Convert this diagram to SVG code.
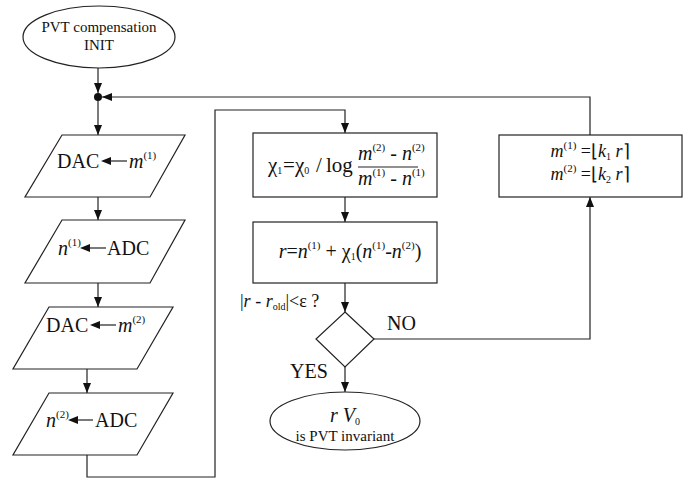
<svg xmlns="http://www.w3.org/2000/svg" width="696" height="480" viewBox="0 0 696 480" font-family="'Liberation Serif', serif">
<defs>
<style>
.ln{fill:none;stroke:#222;stroke-width:1.2}
.sh{fill:#fff;stroke:#222;stroke-width:1.2}
.ah{fill:#111;stroke:none}
.tx{fill:#111}
.t20{font-size:20px}
.t18{font-size:18px}
.t15{font-size:15px}
.i{font-style:italic}
.sup{font-size:11px}
.sub{font-size:10px}
</style>
<marker id="arr" markerUnits="userSpaceOnUse" markerWidth="10" markerHeight="8" refX="10" refY="4" orient="auto">
<path d="M0,0 L10,4 L0,8 z" fill="#111"/>
</marker>
</defs>
<rect width="696" height="480" fill="#fff"/>

<g id="connectors">
<path class="ln" d="M98,68 V93" marker-end="url(#arr)"/>
<circle cx="98" cy="97" r="4" fill="#111"/>
<path class="ln" d="M590,135 V97 H102" marker-end="url(#arr)"/>
<path class="ln" d="M98,101 V135" marker-end="url(#arr)"/>
<path class="ln" d="M98,197 V220" marker-end="url(#arr)"/>
<path class="ln" d="M98,283 V307" marker-end="url(#arr)"/>
<path class="ln" d="M87,369 V393" marker-end="url(#arr)"/>
<path class="ln" d="M87,455 V477 H215 V110 H345 V133" marker-end="url(#arr)"/>
<path class="ln" d="M345,197 V222" marker-end="url(#arr)"/>
<path class="ln" d="M345,283 V312" marker-end="url(#arr)"/>
<path class="ln" d="M345,367 V392" marker-end="url(#arr)"/>
<path class="ln" d="M374,339 H590 V197" marker-end="url(#arr)"/>
<text x="240" y="307" class="tx t18">|<tspan class="i">r</tspan>  - <tspan class="i">r</tspan><tspan class="sub" dy="3">old</tspan><tspan dy="-3">|&lt;ε ?</tspan></text>
<text x="387" y="330" class="tx t20">NO</text>
<text x="290" y="378" class="tx t20">YES</text>
</g>

<g id="init">
<ellipse class="sh" cx="99" cy="37" rx="76" ry="31"/>
<text x="99" y="32" class="tx t15" text-anchor="middle">PVT compensation</text>
<text x="99" y="50" class="tx t15" text-anchor="middle">INIT</text>
</g>

<g id="dac1">
<polygon class="sh" points="62,135 185,135 150,197 25,197"/>
<text x="57" y="168" class="tx t20">DAC</text>
<polygon class="ah" points="101,161 111,157 111,165"/>
<line class="ln" x1="110" y1="161" x2="127" y2="161"/>
<text x="129" y="168" class="tx t20"><tspan class="i">m</tspan><tspan class="sup" dy="-9">(1)</tspan></text>
</g>

<g id="adc1">
<polygon class="sh" points="62,220 185,220 150,283 25,283"/>
<text x="58" y="255" class="tx t20"><tspan class="i">n</tspan><tspan class="sup" dy="-9">(1)</tspan></text>
<polygon class="ah" points="80,248 90,244 90,252"/>
<line class="ln" x1="89" y1="248" x2="106" y2="248"/>
<text x="107" y="255" class="tx t20">ADC</text>
</g>

<g id="dac2">
<polygon class="sh" points="49,307 173,307 137,369 13,369"/>
<text x="46" y="332" class="tx t20">DAC</text>
<polygon class="ah" points="90,325 100,321 100,329"/>
<line class="ln" x1="99" y1="325" x2="116" y2="325"/>
<text x="118" y="332" class="tx t20"><tspan class="i">m</tspan><tspan class="sup" dy="-9">(2)</tspan></text>
</g>

<g id="adc2">
<polygon class="sh" points="49,393 173,393 137,455 13,455"/>
<text x="46" y="427" class="tx t20"><tspan class="i">n</tspan><tspan class="sup" dy="-9">(2)</tspan></text>
<polygon class="ah" points="68,420 78,416 78,424"/>
<line class="ln" x1="77" y1="420" x2="93" y2="420"/>
<text x="95" y="427" class="tx t20">ADC</text>
</g>

<g id="chi">
<rect class="sh" x="253" y="133" width="184" height="64"/>
<text y="172" class="tx" font-size="21"><tspan x="268">χ</tspan><tspan class="sub" dy="2">1</tspan><tspan x="283" dy="-2">=</tspan><tspan x="295">χ</tspan><tspan class="sub" dy="2">0</tspan><tspan x="316" dy="-2">/</tspan><tspan x="326">log</tspan></text>
<text x="358" y="160" class="tx t20"><tspan class="i">m</tspan><tspan class="sup" dy="-9">(2)</tspan><tspan dy="9"> - </tspan><tspan class="i">n</tspan><tspan class="sup" dy="-9">(2)</tspan></text>
<line class="ln" x1="358" y1="167" x2="418" y2="167"/>
<text x="358" y="185" class="tx t20"><tspan class="i">m</tspan><tspan class="sup" dy="-9">(1)</tspan><tspan dy="9"> - </tspan><tspan class="i">n</tspan><tspan class="sup" dy="-9">(1)</tspan></text>
</g>

<g id="rcalc">
<rect class="sh" x="253" y="222" width="184" height="61"/>
<text x="350" y="258" class="tx t20" text-anchor="middle"><tspan class="i">r</tspan>=<tspan class="i">n</tspan><tspan class="sup" dy="-9">(1)</tspan><tspan dy="9"> + χ</tspan><tspan class="sub" dy="2">1</tspan><tspan dy="-2">(</tspan><tspan class="i">n</tspan><tspan class="sup" dy="-9">(1)</tspan><tspan dy="9">-</tspan><tspan class="i">n</tspan><tspan class="sup" dy="-9">(2)</tspan><tspan dy="9">)</tspan></text>
</g>

<g id="decision">
<polygon class="sh" points="345,312 374,339 345,367 316,339"/>
</g>

<g id="result">
<ellipse class="sh" cx="345" cy="421" rx="75" ry="29"/>
<text x="345" y="422" class="tx t20" text-anchor="middle"><tspan class="i">r V</tspan><tspan class="sub" dy="3">0</tspan></text>
<text x="345" y="441" class="tx t15" text-anchor="middle">is PVT invariant</text>
</g>

<g id="update">
<rect class="sh" x="499" y="135" width="183" height="62"/>
<text x="590" y="157" class="tx t18" text-anchor="middle"><tspan class="i">m</tspan><tspan class="sup" dy="-8">(1)</tspan><tspan dy="8"> =⌊</tspan><tspan class="i">k</tspan><tspan class="sub" dy="3">1</tspan><tspan dy="-3"> </tspan><tspan class="i">r</tspan>⌉</text>
<text x="590" y="180" class="tx t18" text-anchor="middle"><tspan class="i">m</tspan><tspan class="sup" dy="-8">(2)</tspan><tspan dy="8"> =⌊</tspan><tspan class="i">k</tspan><tspan class="sub" dy="3">2</tspan><tspan dy="-3"> </tspan><tspan class="i">r</tspan>⌉</text>
</g>
</svg>
